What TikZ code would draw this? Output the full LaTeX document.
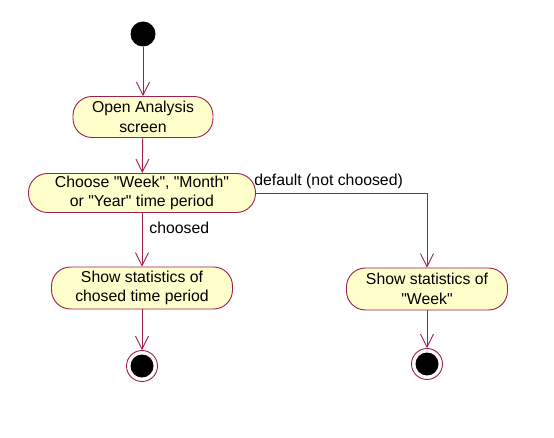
\documentclass[tikz,border=0pt]{standalone}
\usepackage{fontspec}
\setmainfont{Liberation Sans}
\usetikzlibrary{arrows.meta}
\definecolor{rosered}{RGB}{160,30,80}
\definecolor{roseyellow}{RGB}{255,255,204}
\newcommand{\qt}{\textquotedbl}

\begin{document}
\begin{tikzpicture}[x=1pt,y=1pt]
\tikzstyle{every node}+=[inner sep=0pt, font=\fontsize{15.8}{19.5}\selectfont]
\tikzstyle{activity}=[draw=rosered, line width=0.9pt, fill=roseyellow, rounded corners=19pt, align=center]
\tikzstyle{flow}=[draw=rosered, line width=0.9pt, -{Straight Barb[length=13pt,width=13pt]}]
\useasboundingbox (0,0) rectangle (554,-438);
\node [circle, fill=black, minimum size=25pt] (start) at (143,-34) {};
\node [activity, minimum width=140pt, minimum height=41pt] (open) at (143,-117) {Open Analysis\\screen};
\node [activity, minimum width=227pt, minimum height=39pt] (choose) at (142,-193) {Choose \qt Week\qt, \qt Month\qt\\or \qt Year\qt{} time period};
\node [activity, minimum width=181pt, minimum height=42pt] (showsel) at (142,-288) {Show statistics of\\chosed time period};
\node [activity, minimum width=161pt, minimum height=42pt] (showweek) at (427,-289) {Show statistics of\\\qt Week\qt};
\node [circle, draw=rosered, line width=0.9pt, fill=white, minimum size=31pt] (endsel) at (142,-366) {};
\fill [black] (endsel) circle (11.5);
\node [circle, draw=rosered, line width=0.9pt, fill=white, minimum size=31pt] (endweek) at (427,-364) {};
\fill [black] (endweek) circle (11.5);
\draw [flow] (start) -- (open);
\draw [flow] (open) -- (choose);
\draw [flow] (choose) -- node [pos=0.27, right=7pt] {choosed} (showsel);
\draw [flow] (choose.east) -| node [pos=0, above right, yshift=4pt, xshift=-2pt] {default (not choosed)} (showweek.north);
\draw [flow] (showsel) -- (endsel);
\draw [flow] (showweek) -- (endweek);
\end{tikzpicture}
\end{document}
